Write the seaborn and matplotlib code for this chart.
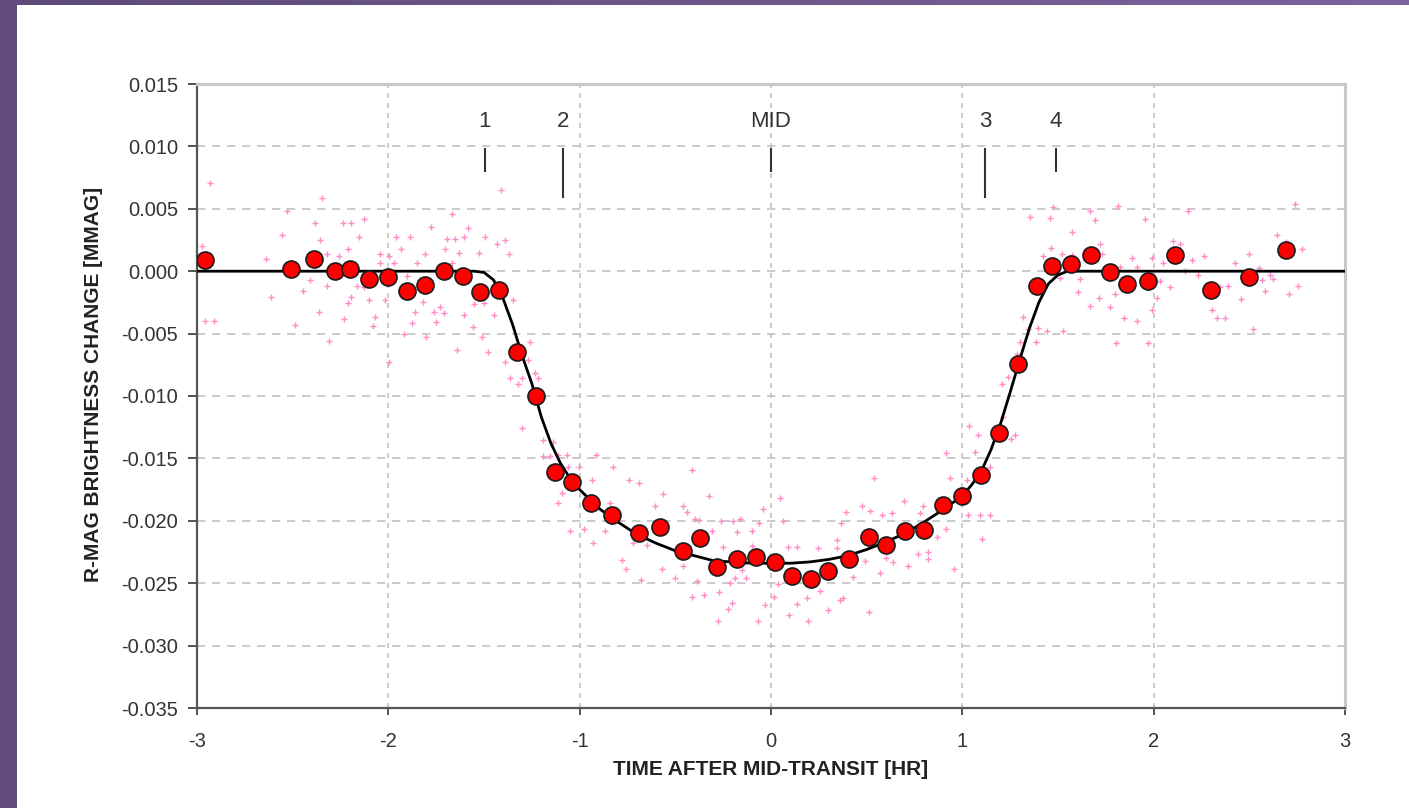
import numpy as np
import pandas as pd
import matplotlib
matplotlib.use("Agg")
import matplotlib.pyplot as plt
import seaborn as sns
from matplotlib.patches import Rectangle
from matplotlib.colors import LinearSegmentedColormap

# ---------------- data ----------------
# binned measurements (red circles)
BIN_X = [-2.96, -2.51, -2.39, -2.28, -2.20, -2.10, -2.00, -1.90, -1.81, -1.71,
         -1.61, -1.52, -1.42, -1.33, -1.23, -1.13, -1.04, -0.94, -0.83, -0.69,
         -0.58, -0.46, -0.37, -0.28, -0.18, -0.08, 0.02, 0.11, 0.21, 0.30,
         0.41, 0.51, 0.60, 0.70, 0.80, 0.90, 1.00, 1.10, 1.19, 1.29,
         1.39, 1.47, 1.57, 1.67, 1.77, 1.86, 1.97, 2.11, 2.30, 2.50, 2.69]
BIN_Y = [0.0009, 0.0002, 0.0010, 0.0000, 0.0002, -0.0006, -0.0005, -0.0016, -0.0011, 0.0000,
         -0.0004, -0.0017, -0.0015, -0.0065, -0.0100, -0.0161, -0.0169, -0.0186, -0.0195, -0.0210,
         -0.0205, -0.0224, -0.0214, -0.0237, -0.0231, -0.0229, -0.0233, -0.0244, -0.0247, -0.0240,
         -0.0231, -0.0213, -0.0219, -0.0208, -0.0207, -0.0187, -0.0180, -0.0163, -0.0130, -0.0074,
         -0.0012, 0.0004, 0.0006, 0.0013, -0.0001, -0.0010, -0.0008, 0.0013, -0.0015, -0.0005, 0.0017]

# model light curve (black line)
CURVE_X = [-3.00, -1.55, -1.50, -1.45, -1.40, -1.35, -1.30, -1.25, -1.20, -1.15,
           -1.10, -1.05, -1.00, -0.90, -0.80, -0.70, -0.60, -0.50, -0.40, -0.30,
           -0.20, -0.10, 0.00, 0.10, 0.20, 0.30, 0.40, 0.50, 0.60, 0.70,
           0.80, 0.90, 1.00, 1.05, 1.10, 1.15, 1.20, 1.25, 1.30, 1.35,
           1.40, 1.45, 1.50, 1.55, 3.00]
CURVE_Y = [0.0, 0.0, -0.0001, -0.0007, -0.0022, -0.0043, -0.0068, -0.0090, -0.0117, -0.0138,
           -0.0154, -0.0166, -0.0175, -0.0190, -0.0201, -0.0211, -0.0218, -0.0224, -0.0228, -0.0232,
           -0.0233, -0.0234, -0.0234, -0.0234, -0.0233, -0.0231, -0.0228, -0.0223, -0.0217, -0.0210,
           -0.0201, -0.0191, -0.0180, -0.0171, -0.0160, -0.0143, -0.0122, -0.0097, -0.0071, -0.0046,
           -0.0025, -0.0010, -0.0003, 0.0, 0.0]

# individual measurements (pink crosses) - before transit
PRE_X = [-2.931, -2.347, -2.530, -1.411, -1.668, -2.129, -2.239, -2.196, -2.385, -1.775,
         -1.586, -2.556, -2.155, -2.356, -1.959, -1.886, -1.694, -1.651, -1.606, -1.493,
         -1.389, -1.432, -2.974, -2.211, -1.932, -1.703, -1.633, -1.528, -1.368, -2.638,
         -2.321, -2.260, -2.042, -1.998, -1.850, -1.810, -1.668, -2.042, -1.972, -2.408,
         -2.321, -1.902, -2.164, -2.129, -2.448, -2.614, -2.196, -2.211, -2.103, -2.019,
         -1.821, -1.729, -1.554, -1.502, -1.349, -2.364, -1.763, -1.711, -1.606, -1.450,
         -1.859, -2.957, -2.913, -2.230, -2.068, -2.487, -2.082, -1.876, -1.749, -1.558,
         -1.919, -1.801, -1.511, -2.311, -1.995, -1.643, -1.478]
PRE_Y = [0.00704, 0.00584, 0.00482, 0.00651, 0.00456, 0.00416, 0.00389, 0.00389, 0.00389, 0.00357,
         0.00344, 0.00290, 0.00272, 0.00250, 0.00272, 0.00272, 0.00258, 0.00258, 0.00272, 0.00272,
         0.00250, 0.00218, 0.00204, 0.00175, 0.00175, 0.00175, 0.00148, 0.00148, 0.00138, 0.00095,
         0.00135, 0.00122, 0.00135, 0.00122, 0.00063, 0.00135, 0.00063, 0.00063, 0.00063, -0.00070,
         -0.00116, -0.00036, -0.00116, -0.00124, -0.00156, -0.00209, -0.00209, -0.00257, -0.00231, -0.00231,
         -0.00244, -0.00284, -0.00263, -0.00257, -0.00231, -0.00325, -0.00329, -0.00337, -0.00351, -0.00351,
         -0.00329, -0.00397, -0.00397, -0.00383, -0.00365, -0.00431, -0.00437, -0.00417, -0.00409, -0.00445,
         -0.00503, -0.00530, -0.00530, -0.00559, -0.00725, -0.00630, -0.00650]

# ingress and first half of transit
ING_X = [-1.390, -1.260, -1.269, -1.364, -1.303, -1.321, -1.216, -1.233, -1.303, -1.190,
         -1.138, -1.190, -1.155, -1.112, -1.068, -1.060, -1.002, -0.915, -0.824, -0.415,
         -0.937, -0.741, -0.688, -1.094, -1.112, -0.566, -0.323, -0.606, -0.458, -0.441,
         -0.043, -0.842, -1.051, -0.978, -0.868, -0.932, -0.397, -0.375, -0.261, -0.197,
         -0.162, -0.307, -0.179, -0.098, -0.061, -0.252, -0.101, -0.720, -0.650, -0.781,
         -0.758, -0.571, -0.502, -0.458, -0.388, -0.679, -0.153, -0.188, -0.131, -0.214,
         -0.415, -0.349, -0.270, -0.223, -0.205, -0.275, -0.066, -0.031]
ING_Y = [-0.00730, -0.00565, -0.00712, -0.00853, -0.00853, -0.00906, -0.00853, -0.00818, -0.01259, -0.01353,
         -0.01366, -0.01481, -0.01481, -0.01473, -0.01473, -0.01566, -0.01571, -0.01473, -0.01571, -0.01593,
         -0.01673, -0.01673, -0.01700, -0.01780, -0.01855, -0.01785, -0.01799, -0.01881, -0.01881, -0.01927,
         -0.01908, -0.01860, -0.02079, -0.02066, -0.02082, -0.02175, -0.01988, -0.01994, -0.01999, -0.01999,
         -0.01988, -0.02079, -0.02093, -0.02079, -0.02015, -0.02208, -0.02202, -0.02180, -0.02194, -0.02314,
         -0.02386, -0.02386, -0.02461, -0.02360, -0.02480, -0.02475, -0.02394, -0.02456, -0.02456, -0.02501,
         -0.02608, -0.02595, -0.02568, -0.02709, -0.02661, -0.02800, -0.02800, -0.02677]

# second half of transit
MID_X = [0.047, 0.064, 0.087, 0.134, 0.244, 0.347, 0.347, 0.390, 0.364, 0.477,
         0.518, 0.579, 0.631, 0.538, 0.695, 0.779, 0.796, 0.913, 0.936, 1.023,
         1.066, 1.084, 1.145, 1.032, 1.093, 1.145, 1.105, 0.915, 0.866, 0.958,
         0.822, 0.770, 0.819, 0.718, 0.639, 0.601, 0.570, 0.491, 0.430, 0.378,
         0.361, 0.300, 0.256, 0.187, 0.134, 0.195, 0.096, 0.038, 0.017, 0.514]
MID_Y = [-0.01815, -0.02000, -0.02208, -0.02213, -0.02220, -0.02154, -0.02220, -0.01927, -0.02020, -0.01881,
         -0.01921, -0.01953, -0.01935, -0.01660, -0.01841, -0.01935, -0.01881, -0.01454, -0.01660, -0.01673,
         -0.01451, -0.01313, -0.01566, -0.01953, -0.01953, -0.01953, -0.02146, -0.02066, -0.02132, -0.02386,
         -0.02248, -0.02268, -0.02309, -0.02362, -0.02328, -0.02300, -0.02421, -0.02320, -0.02448, -0.02621,
         -0.02635, -0.02715, -0.02563, -0.02621, -0.02667, -0.02800, -0.02755, -0.02509, -0.02608, -0.02728]

# egress and after transit
POST_X = [1.472, 1.816, 2.181, 2.739, 1.354, 1.458, 1.667, 1.694, 1.955, 1.572,
          2.643, 2.103, 2.138, 1.720, 1.464, 2.774, 2.692, 1.420, 1.520, 1.572,
          1.732, 1.885, 1.990, 2.199, 2.264, 2.500, 2.426, 2.051, 1.824, 1.912,
          2.548, 2.164, 2.234, 2.609, 2.626, 2.565, 1.511, 1.615, 2.033, 2.391,
          2.347, 2.756, 2.086, 1.603, 1.798, 2.582, 2.709, 2.016, 1.716, 2.455,
          1.668, 1.772, 2.307, 1.993, 1.847, 1.912, 2.330, 2.373, 1.319, 1.397,
          1.345, 1.444, 1.528, 2.518, 1.802, 1.972, 1.384, 1.301, 1.284, 1.206,
          1.241, 1.254, 1.275, 1.214, 1.037]
POST_Y = [0.00517, 0.00522, 0.00482, 0.00538, 0.00437, 0.00424, 0.00482, 0.00410, 0.00416, 0.00312,
          0.00290, 0.00244, 0.00218, 0.00218, 0.00188, 0.00178, 0.00236, 0.00122, 0.00135, 0.00130,
          0.00135, 0.00103, 0.00103, 0.00090, 0.00122, 0.00135, 0.00068, 0.00063, 0.00036, 0.00036,
          0.00023, 0.00000, -0.00030, -0.00030, -0.00065, -0.00071, -0.00057, -0.00065, -0.00076, -0.00116,
          -0.00129, -0.00119, -0.00129, -0.00169, -0.00185, -0.00156, -0.00185, -0.00212, -0.00217, -0.00225,
          -0.00279, -0.00284, -0.00311, -0.00311, -0.00377, -0.00397, -0.00377, -0.00377, -0.00370, -0.00458,
          -0.00466, -0.00479, -0.00479, -0.00463, -0.00573, -0.00573, -0.00565, -0.00565, -0.00663, -0.00904,
          -0.00850, -0.01347, -0.01313, -0.01166, -0.01240]

# contact markers
CONTACT_LABELS = ["1", "2", "MID", "3", "4"]
CONTACT_X = [-1.495, -1.087, 0.0, 1.119, 1.490]
CONTACT_BOTTOM = [0.00795, 0.00587, 0.00795, 0.00587, 0.00795]
CONTACT_TOP = 0.00987
CONTACT_LABEL_Y = 0.0120

XTICKS = [-3, -2, -1, 0, 1, 2, 3]
XTICK_LABELS = ["-3", "-2", "-1", "0", "1", "2", "3"]
YTICKS = [0.015, 0.010, 0.005, 0.000, -0.005, -0.010, -0.015, -0.020, -0.025, -0.030, -0.035]
YTICK_LABELS = ["0.015", "0.010", "0.005", "0.000", "-0.005", "-0.010", "-0.015",
                "-0.020", "-0.025", "-0.030", "-0.035"]
XLABEL = "TIME AFTER MID-TRANSIT [HR]"
YLABEL = "R-MAG BRIGHTNESS CHANGE [MMAG]"

# ---------------- plot ----------------
sns.set_style("white")
plt.rcParams['font.family'] = ['Liberation Sans', 'DejaVu Sans']

W, H = 1409, 808
fig = plt.figure(figsize=(W / 100, H / 100), dpi=100)
fig.patch.set_facecolor("white")

# purple frame (left strip and top strip)
fig.patches.append(Rectangle((0, 0), 17 / W, 1, transform=fig.transFigure,
                             facecolor="#614c7d", edgecolor="none", zorder=0))
gax = fig.add_axes([0, 1 - 5 / H, 1, 5 / H])
grad = np.linspace(0, 1, 256).reshape(1, -1)
gax.imshow(grad, aspect="auto",
           cmap=LinearSegmentedColormap.from_list("frame", ["#5e4a7a", "#7c629b"]))
gax.axis("off")

ax = fig.add_axes([197 / W, 100 / H, 1148 / W, 624 / H])
ax.set_facecolor("white")

pink = pd.DataFrame({"x": PRE_X + ING_X + MID_X + POST_X,
                     "y": PRE_Y + ING_Y + MID_Y + POST_Y})
curve = pd.DataFrame({"x": CURVE_X, "y": CURVE_Y})
bins = pd.DataFrame({"x": BIN_X, "y": BIN_Y})

sns.scatterplot(data=pink, x="x", y="y", marker="+", color="#ff8cc6", s=14,
                linewidth=1.0, ax=ax, zorder=2, legend=False)
sns.lineplot(data=curve, x="x", y="y", color="black", linewidth=2.0,
             estimator=None, sort=False, ax=ax, zorder=3, legend=False)
sns.scatterplot(data=bins, x="x", y="y", s=150, color="#ff0000",
                edgecolor="#1a1a1a", linewidth=1.2, ax=ax, zorder=4, legend=False)

# contact markers
ax.vlines(CONTACT_X, CONTACT_BOTTOM, CONTACT_TOP, color="#333333", linewidth=1.5, zorder=3)
for lab, cx in zip(CONTACT_LABELS, CONTACT_X):
    ax.text(cx, CONTACT_LABEL_Y, lab, ha="center", va="center", fontsize=16,
            color="#333333", zorder=5)

ax.set_xlim(-3, 3)
ax.set_ylim(-0.035, 0.015)
ax.set_xticks(XTICKS)
ax.set_xticklabels(XTICK_LABELS)
ax.set_yticks(YTICKS)
ax.set_yticklabels(YTICK_LABELS)

ax.grid(False)
for yv in YTICKS[1:-1]:
    ax.axhline(yv, color="#c2c2c2", linewidth=1.2, linestyle=(0, (5, 4)), zorder=1)
for xv in XTICKS[1:-1]:
    ax.axvline(xv, color="#c2c2c2", linewidth=1.2, linestyle=(0, (3, 3)), zorder=1)

ax.tick_params(axis="x", direction="out", length=5, width=1.3, color="#444444",
               labelcolor="#333333", labelsize=14.5, pad=12, bottom=True)
ax.tick_params(axis="y", direction="out", length=6.5, width=1.3, color="#444444",
               labelcolor="#333333", labelsize=14.5, pad=7, left=True)

for side in ["left", "bottom"]:
    ax.spines[side].set_color("#555555")
    ax.spines[side].set_linewidth(1.6)
for side in ["top", "right"]:
    ax.spines[side].set_color("#c8c8c8")
    ax.spines[side].set_linewidth(2.2)

ax.set_xlabel(XLABEL, fontweight="bold", fontsize=15, color="#222222")
ax.set_ylabel(YLABEL, fontweight="bold", fontsize=15, color="#222222")
ax.xaxis.set_label_coords(0.5, -0.083)
ax.yaxis.set_label_coords(-0.082, 0.518)

fig.savefig("out.png", dpi=100, facecolor="white")
